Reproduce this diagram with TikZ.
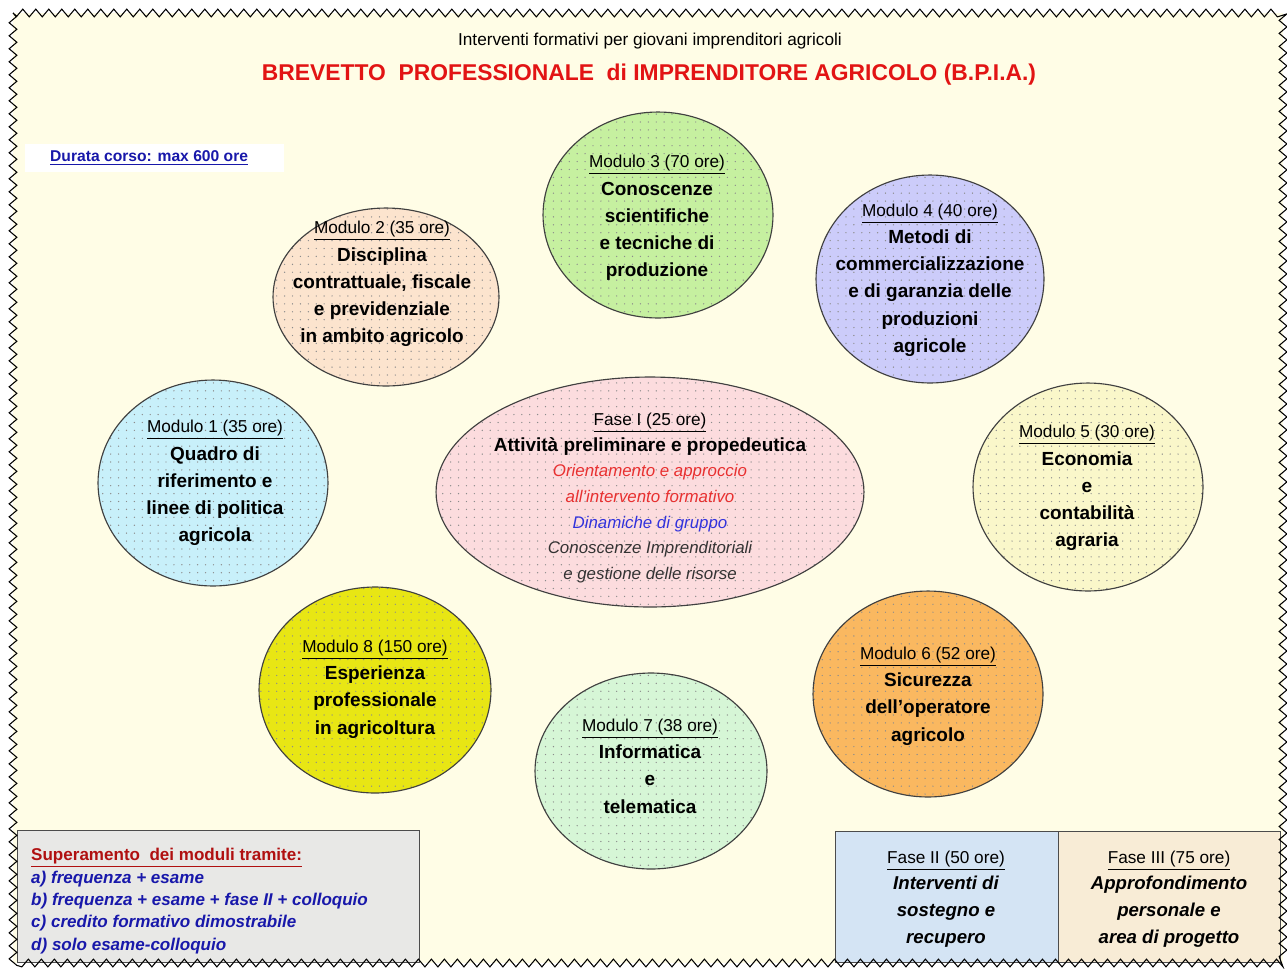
\documentclass[tikz,border=0pt]{standalone}
\usepackage{fontspec}
\setmainfont{Liberation Sans}
\usetikzlibrary{shapes.geometric,patterns.meta,decorations.pathmorphing}

\definecolor{sfondo}{RGB}{255,253,230}
\definecolor{azzurro}{RGB}{200,240,250}
\definecolor{pesca}{RGB}{252,228,206}
\definecolor{verde}{RGB}{198,240,160}
\definecolor{lilla}{RGB}{204,204,250}
\definecolor{crema}{RGB}{250,247,202}
\definecolor{arancio}{RGB}{250,184,96}
\definecolor{verdino}{RGB}{214,246,214}
\definecolor{giallo}{RGB}{232,230,20}
\definecolor{rosa}{RGB}{252,220,222}
\definecolor{rosso}{RGB}{226,20,20}
\definecolor{rossochiaro}{RGB}{232,48,48}
\definecolor{blu}{RGB}{24,24,170}
\definecolor{bluchiaro}{RGB}{50,50,220}
\definecolor{bordeaux}{RGB}{176,16,16}
\definecolor{grigio}{RGB}{232,232,230}
\definecolor{celeste}{RGB}{212,228,244}
\definecolor{beige}{RGB}{248,236,214}

\tikzdeclarepattern{
  name=puntini,
  type=uncolored,
  bounding box={(-0.5pt,-0.5pt) and (0.5pt,0.5pt)},
  tile size={(4.5pt,4.5pt)},
  code={\fill (0pt,0pt) circle (0.4pt);}
}

\tikzset{
  modulo/.style={ellipse, draw=black!75, line width=0.65pt, inner sep=0pt,
    preaction={fill=#1}, pattern=puntini, pattern color=black!45},
  testo/.style={align=center, font=\fontsize{10.8}{15.5}\selectfont\bfseries},
  fase/.style={align=center, font=\fontsize{10.6}{15.3}\selectfont\bfseries\itshape},
}
\newcommand{\titolo}[1]{{\fontsize{9.8}{15.5}\selectfont\mdseries\upshape\underline{#1}}}

\begin{document}
\begin{tikzpicture}[x=0.02cm, y=-0.02cm]
    \useasboundingbox (0,0) rectangle (1287,968);
    % Sfondo
    \fill[sfondo] (13,13) rectangle (1283,963);

    % Titoli
    \node[font=\fontsize{9.8}{12}\selectfont] (sottotitolo) at (650,41)
        {Interventi formativi per giovani imprenditori agricoli};
    \node[font=\fontsize{13}{16}\selectfont\bfseries, text=rosso] (titolo) at (649,75)
        {BREVETTO\ \ PROFESSIONALE\ \ di IMPRENDITORE AGRICOLO (B.P.I.A.)};

    % Durata
    \fill[white] (25,144) rectangle (284,172);
    \node[anchor=west, font=\fontsize{8.9}{11}\selectfont\bfseries, text=blu] (durata) at (44,158)
        {\underline{Durata corso: max 600 ore}};

    % Moduli
    \node[modulo=azzurro, minimum width=4.6cm, minimum height=4.12cm] (m1) at (213,483) {};
    \node[testo] (t1) at (215,483) {\titolo{Modulo 1 (35 ore)}\\ Quadro di\\ riferimento e\\ linee di politica\\ agricola};

    \node[modulo=pesca, minimum width=4.52cm, minimum height=3.56cm] (m2) at (386,297) {};
    \node[testo] (t2) at (382,284) {\titolo{Modulo 2 (35 ore)}\\ Disciplina\\ contrattuale, fiscale\\ e previdenziale\\ in ambito agricolo};

    \node[modulo=verde, minimum width=4.6cm, minimum height=4.12cm] (m3) at (658,215) {};
    \node[testo] (t3) at (657,218) {\titolo{Modulo 3 (70 ore)}\\ Conoscenze\\ scientifiche\\ e tecniche di\\ produzione};

    \node[modulo=lilla, minimum width=4.56cm, minimum height=4.16cm] (m4) at (930,279) {};
    \node[testo] (t4) at (930,280) {\titolo{Modulo 4 (40 ore)}\\ Metodi di\\ commercializzazione\\ e di garanzia delle\\ produzioni\\ agricole};

    \node[modulo=crema, minimum width=4.6cm, minimum height=4.16cm] (m5) at (1088,487) {};
    \node[testo] (t5) at (1087,488) {\titolo{Modulo 5 (30 ore)}\\ Economia\\ e\\ contabilità\\ agraria};

    \node[modulo=arancio, minimum width=4.6cm, minimum height=4.12cm] (m6) at (928,694) {};
    \node[testo] (t6) at (928,696) {\titolo{Modulo 6 (52 ore)}\\ Sicurezza\\ dell’operatore\\ agricolo};

    \node[modulo=verdino, minimum width=4.64cm, minimum height=3.92cm] (m7) at (651,771) {};
    \node[testo] (t7) at (650,766) {\titolo{Modulo 7 (38 ore)}\\ Informatica\\ e\\ telematica};

    \node[modulo=giallo, minimum width=4.64cm, minimum height=4.12cm] (m8) at (375,690) {};
    \node[testo] (t8) at (375,689) {\titolo{Modulo 8 (150 ore)}\\ Esperienza\\ professionale\\ in agricoltura};

    % Fase I
    \node[modulo=rosa, minimum width=8.56cm, minimum height=4.6cm] (f1) at (650,492) {};
    \node[align=center, font=\fontsize{10.8}{14.6}\selectfont\bfseries] (tf1) at (650,498)
        {\titolo{Fase I (25 ore)}\\ Attività preliminare e propedeutica\\
         {\fontsize{9.6}{14.6}\selectfont\mdseries\itshape\color{rossochiaro}Orientamento e approccio}\\
         {\fontsize{9.6}{14.6}\selectfont\mdseries\itshape\color{rossochiaro}all’intervento formativo}\\
         {\fontsize{9.6}{14.6}\selectfont\mdseries\itshape\color{bluchiaro}Dinamiche di gruppo}\\
         {\fontsize{9.6}{14.6}\selectfont\mdseries\itshape\color{black!80}Conoscenze Imprenditoriali}\\
         {\fontsize{9.6}{14.6}\selectfont\mdseries\itshape\color{black!80}e gestione delle risorse}};

    % Modalita' di superamento
    \draw[black!70, fill=grigio] (17,830) rectangle (419,962);
    \node[anchor=west, align=left, font=\fontsize{9.7}{12.75}\selectfont\bfseries\itshape, text=blu] (modalita) at (25,901)
        {{\upshape\color{bordeaux}\underline{Superamento\ \ dei moduli tramite:}}\\
         a) frequenza + esame\\
         b) frequenza + esame + fase II + colloquio\\
         c) credito formativo dimostrabile\\
         d) solo esame-colloquio};

    % Fase II e Fase III
    \draw[black!70, fill=celeste] (835,831) rectangle (1058,962);
    \draw[black!70, fill=beige] (1058,831) rectangle (1280,962);
    \node[fase] (f2) at (946,899) {\titolo{Fase II (50 ore)}\\ Interventi di\\ sostegno e\\ recupero};
    \node[fase] (f3) at (1169,899) {\titolo{Fase III (75 ore)}\\ Approfondimento\\ personale e\\ area di progetto};

    % Bordo a zig-zag
    \draw[black, line width=0.6pt, decorate,
        decoration={zigzag, segment length=7.4pt, amplitude=2.2pt}] (13,13) rectangle (1283,963);
\end{tikzpicture}
\end{document}
